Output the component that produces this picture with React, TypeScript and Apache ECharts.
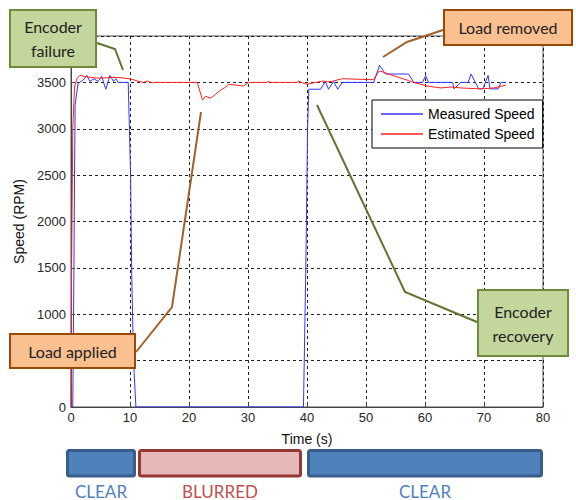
import React, { useEffect, useRef } from "react";
import * as echarts from "echarts";

const seriesNames = ["Measured Speed", "Estimated Speed"];

const measuredT = [0, 0.3, 0.5, 0.6, 0.7, 1.2, 2.0, 2.7, 3.2, 3.9, 4.6, 5.2, 5.9, 6.6, 7.2, 7.6, 8.0, 9.7, 10.1, 10.3, 10.6, 11.0, 39.4, 39.8, 40.1, 40.3, 42.3, 43.1, 43.65, 44.5, 45.2, 46.0, 51.3, 52.3, 53.3, 57.2, 58.1, 59.6, 60.1, 60.6, 64.7, 64.9, 66.1, 67.3, 67.8, 69.1, 69.8, 70.7, 71.0, 72.4, 72.9, 73.7];
const measuredV = [0, 0, 1500, 2500, 3260, 3490, 3520, 3575, 3510, 3540, 3510, 3565, 3426, 3575, 3510, 3540, 3500, 3500, 2500, 1400, 500, 0, 0, 1500, 3000, 3426, 3426, 3510, 3426, 3510, 3426, 3500, 3500, 3684, 3590, 3590, 3500, 3500, 3575, 3500, 3500, 3430, 3500, 3500, 3590, 3430, 3430, 3575, 3430, 3430, 3500, 3500];

const estimatedT = [0, 0.1, 0.3, 0.6, 1.0, 1.5, 2.5, 4, 5, 7, 8.5, 9.7, 10.5, 11.5, 12.3, 12.9, 13.8, 14.5, 21.4, 22.3, 22.8, 23.6, 24.1, 25.3, 26.2, 26.7, 28, 29.2, 30.1, 33.2, 33.5, 33.8, 38.3, 38.6, 39, 40, 41.5, 42.8, 43.5, 44.5, 46, 50.3, 51.3, 52.2, 52.5, 53.8, 57.2, 58, 60.5, 62.7, 64.4, 66.1, 69.5, 71.7, 73.7];
const estimatedV = [0, 1500, 3000, 3450, 3540, 3575, 3560, 3550, 3545, 3555, 3550, 3540, 3530, 3510, 3500, 3515, 3495, 3500, 3500, 3308, 3350, 3330, 3350, 3415, 3448, 3480, 3470, 3460, 3500, 3500, 3510, 3500, 3500, 3515, 3500, 3480, 3500, 3515, 3505, 3515, 3540, 3530, 3530, 3620, 3620, 3590, 3520, 3500, 3460, 3440, 3450, 3440, 3430, 3440, 3470];

const xTicks = [0, 10, 20, 30, 40, 50, 60, 70, 80];
const hiddenYLabels = [500, 4000];

const stateLabels = ["CLEAR", "BLURRED", "CLEAR"];
const calloutTexts = ["Encoder\nfailure", "Load removed", "Load applied", "Encoder\nrecovery"];

const GREEN_FILL = "#c3d69b";
const GREEN_STROKE = "#6f8a3c";
const GREEN_LINE = "#5f7530";
const ORANGE_FILL = "#fac090";
const ORANGE_STROKE = "#984807";
const ORANGE_LINE = "#a0612a";
const CALLOUT_FONT = "Lato, 'Open Sans', sans-serif";

function callout(x: number, y: number, w: number, h: number, text: string, fill: string, stroke: string) {
  return {
    type: "group",
    z: 100,
    children: [
      { type: "rect", shape: { x, y, width: w, height: h }, style: { fill, stroke, lineWidth: 2 }, z: 100 },
      {
        type: "text",
        x: x + w / 2,
        y: y + h / 2,
        z: 101,
        style: {
          text,
          fill: "#222",
          font: `16px ${CALLOUT_FONT}`,
          align: "center",
          verticalAlign: "middle",
          lineHeight: 24,
        },
      },
    ],
  };
}

function connector(points: number[][], color: string) {
  return { type: "polyline", z: 99, shape: { points }, style: { stroke: color, lineWidth: 2, fill: "none" } };
}

function stateBar(x: number, w: number, fill: string, stroke: string, label: string, color: string) {
  return {
    type: "group",
    children: [
      { type: "rect", shape: { x, y: 450.5, width: w, height: 25.5, r: 2 }, style: { fill, stroke, lineWidth: 3 } },
      {
        type: "text",
        x: x + w / 2,
        y: 491,
        style: { text: label, fill: color, font: `17px ${CALLOUT_FONT}`, align: "center", verticalAlign: "middle" },
      },
    ],
  };
}

export default function App() {
  const ref = useRef<HTMLDivElement>(null);
  useEffect(() => {
    if (!ref.current) return;
    const chart = echarts.init(ref.current, undefined, { renderer: "svg" });
    const measured = measuredT.map((t, i) => [t, measuredV[i]]);
    const estimated = estimatedT.map((t, i) => [t, estimatedV[i]]);
    const axisFont = "'Liberation Sans', Arial, sans-serif";
    chart.setOption({
      animation: false,
      backgroundColor: "#fff",
      grid: { left: 71, right: 33, top: 36, bottom: 93, show: true, borderColor: "#555", borderWidth: 1, backgroundColor: "#fff" },
      legend: {
        data: seriesNames,
        orient: "vertical",
        left: 372,
        top: 100,
        backgroundColor: "#fff",
        borderColor: "#000",
        borderWidth: 1,
        borderRadius: 0,
        padding: [6, 8, 6, 9],
        itemGap: 4,
        itemWidth: 42,
        itemHeight: 1.3,
        icon: "rect",
        textStyle: { fontFamily: axisFont, fontSize: 14, color: "#000", lineHeight: 16 },
      },
      xAxis: {
        type: "value",
        min: 0,
        max: 80,
        interval: 10,
        name: "Time (s)",
        nameLocation: "middle",
        nameGap: 25,
        nameTextStyle: { fontFamily: axisFont, fontSize: 14, color: "#111" },
        axisLine: { show: true, lineStyle: { color: "#444" } },
        axisTick: { show: true, inside: true, length: 4, lineStyle: { color: "#444" } },
        axisLabel: {
          margin: 4,
          fontFamily: axisFont,
          fontSize: 13,
          color: "#262626",
          formatter: (v: number) => (xTicks.includes(v) ? String(v) : ""),
        },
        splitLine: { show: true, lineStyle: { color: "#222", type: [3, 3], width: 1 } },
      },
      yAxis: {
        type: "value",
        min: 0,
        max: 4000,
        interval: 500,
        name: "Speed (RPM)",
        nameLocation: "middle",
        nameGap: 44,
        nameTextStyle: { fontFamily: axisFont, fontSize: 14, color: "#111" },
        axisLine: { show: true, lineStyle: { color: "#444" } },
        axisTick: { show: true, inside: true, length: 4, lineStyle: { color: "#444" } },
        axisLabel: {
          margin: 5,
          fontFamily: axisFont,
          fontSize: 13,
          color: "#262626",
          formatter: (v: number) => (hiddenYLabels.includes(v) ? "" : String(v)),
        },
        splitLine: { show: true, lineStyle: { color: "#222", type: [3, 3], width: 1 } },
      },
      series: [
        {
          name: seriesNames[0],
          type: "line",
          data: measured,
          symbol: "none",
          lineStyle: { color: "#3434ff", width: 1 },
          itemStyle: { color: "#3434ff" },
          z: 3,
        },
        {
          name: seriesNames[1],
          type: "line",
          data: estimated,
          symbol: "none",
          lineStyle: { color: "#ff2020", width: 1 },
          itemStyle: { color: "#ff2020" },
          z: 4,
        },
      ],
      graphic: [
        connector([[97, 43], [115, 49], [123, 70]], GREEN_LINE),
        callout(10, 10, 86, 57, calloutTexts[0], GREEN_FILL, GREEN_STROKE),
        connector([[443, 30], [407, 42], [383, 57]], ORANGE_LINE),
        callout(444, 10, 128, 35, calloutTexts[1], ORANGE_FILL, ORANGE_STROKE),
        connector([[136, 352], [172, 307], [201, 112]], ORANGE_LINE),
        callout(10, 334, 125, 34, calloutTexts[2], ORANGE_FILL, ORANGE_STROKE),
        connector([[317, 105], [405, 292], [477, 322]], GREEN_LINE),
        callout(478, 290, 90, 66, calloutTexts[3], GREEN_FILL, GREEN_STROKE),
        stateBar(67.5, 67, "#4f81bd", "#385d8a", stateLabels[0], "#4f81bd"),
        stateBar(139.5, 161, "#e6b9b8", "#953735", stateLabels[1], "#c0504d"),
        stateBar(308.5, 233, "#4f81bd", "#385d8a", stateLabels[2], "#4f81bd"),
      ],
    });
    return () => chart.dispose();
  }, []);
  return (
    <div
      ref={ref}
      style={{ position: "absolute", left: 0, top: 0, width: 576, height: 500, background: "#fff" }}
    />
  );
}
